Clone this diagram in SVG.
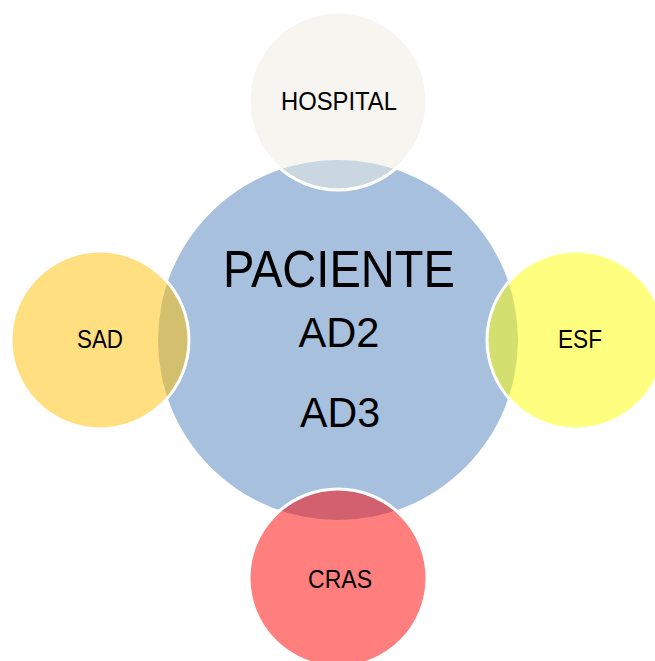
<svg xmlns="http://www.w3.org/2000/svg" width="655" height="661" viewBox="0 0 655 661">
  <style>
    .disc { stroke: none; }
    .sat { stroke: #ffffff; stroke-width: 3; }
    .lbl { font-family: "Liberation Sans", Arial, sans-serif; fill: #000000; text-anchor: middle; }
    .small { font-size: 25px; }
  </style>
  <rect width="655" height="661" fill="#ffffff"/>

  <!-- central node -->
  <g id="paciente">
    <circle class="disc" cx="338" cy="340" r="180" fill="#4F81BD" fill-opacity="0.5"/>
    <text class="lbl" x="339" y="287" font-size="51" textLength="232" lengthAdjust="spacingAndGlyphs">PACIENTE</text>
    <text class="lbl" x="339" y="347" font-size="42" textLength="81" lengthAdjust="spacingAndGlyphs">AD2</text>
    <text class="lbl" x="340" y="427" font-size="42" textLength="80" lengthAdjust="spacingAndGlyphs">AD3</text>
  </g>

  <!-- surrounding nodes, translucent over the centre -->
  <g id="hospital">
    <circle class="sat" cx="338" cy="101" r="89" fill="#EEECE1" fill-opacity="0.5"/>
    <text class="lbl small" x="339" y="110" textLength="116" lengthAdjust="spacingAndGlyphs">HOSPITAL</text>
  </g>

  <g id="sad">
    <circle class="sat" cx="100" cy="340" r="89" fill="#FFC000" fill-opacity="0.5"/>
    <text class="lbl small" x="100" y="348" textLength="46" lengthAdjust="spacingAndGlyphs">SAD</text>
  </g>

  <g id="esf">
    <circle class="sat" cx="576" cy="340" r="89" fill="#FFFF00" fill-opacity="0.5"/>
    <text class="lbl small" x="580" y="348" textLength="44" lengthAdjust="spacingAndGlyphs">ESF</text>
  </g>

  <g id="cras">
    <circle class="sat" cx="338" cy="578" r="89" fill="#FF0000" fill-opacity="0.5"/>
    <text class="lbl small" x="340" y="588" textLength="64" lengthAdjust="spacingAndGlyphs">CRAS</text>
  </g>

  <g id="connectors"/>
</svg>
